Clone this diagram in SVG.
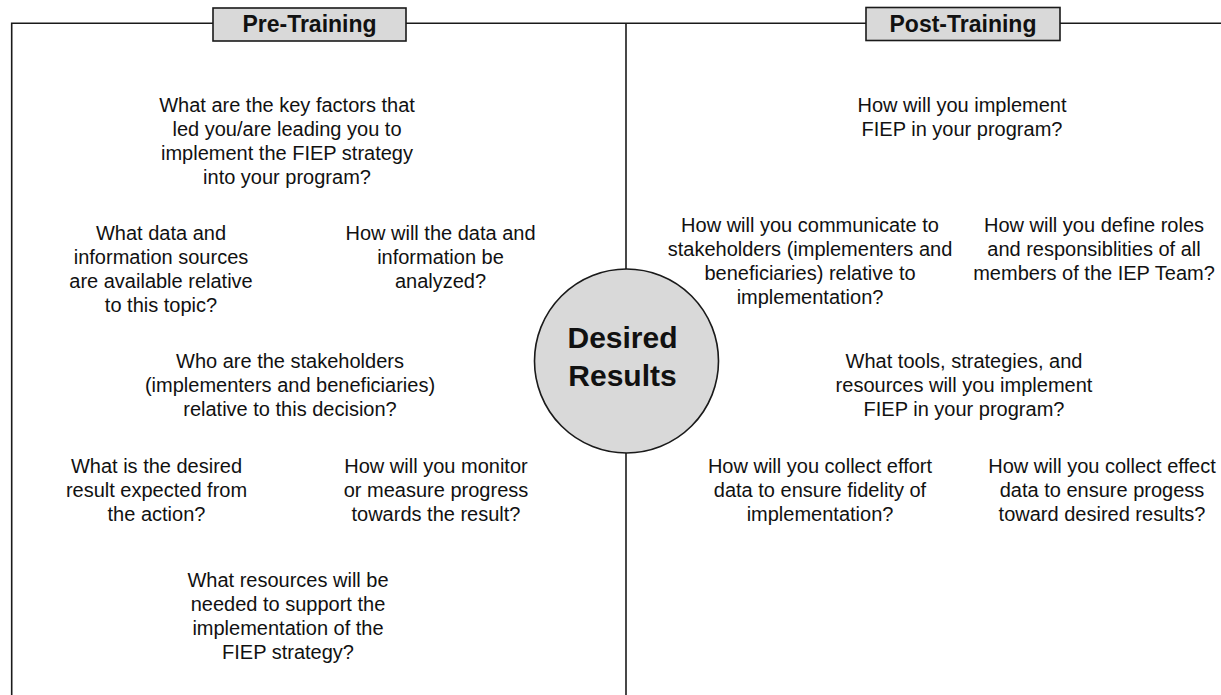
<svg xmlns="http://www.w3.org/2000/svg" width="1221" height="695" viewBox="0 0 1221 695">
<style>
.ln{fill:none;stroke:#1a1a1a;stroke-width:1.6}
.box{fill:#d9d9d9;stroke:#1a1a1a;stroke-width:1.6}
.hd{font-family:"Liberation Sans",Arial,sans-serif;font-weight:bold;font-size:23px;fill:#111;text-anchor:middle}
.q{font-family:"Liberation Sans",Arial,sans-serif;font-size:20px;fill:#111;text-anchor:middle}
.big{font-family:"Liberation Sans",Arial,sans-serif;font-weight:bold;font-size:30px;fill:#111;text-anchor:middle}
</style>
<rect width="1221" height="695" fill="#fff"/>
<g id="connectors">
<path class="ln" d="M11.7,695 V23.3 H1221"/>
<path class="ln" d="M626,23.3 V695"/>
</g>
<g id="pre-training">
<rect class="box" x="213" y="8" width="193" height="33"/>
<text class="hd" x="309.5" y="32">Pre-Training</text>
</g>
<g id="post-training">
<rect class="box" x="866" y="7.5" width="194" height="33"/>
<text class="hd" x="963" y="31.5">Post-Training</text>
</g>
<g id="desired-results">
<circle class="box" cx="626.5" cy="361" r="92"/>
<text class="big" x="622.5" y="348">Desired</text>
<text class="big" x="622.5" y="386">Results</text>
</g>
<g id="q-key-factors">
<text class="q" x="287" y="112">What are the key factors that</text>
<text class="q" x="287" y="136">led you/are leading you to</text>
<text class="q" x="287" y="160">implement the FIEP strategy</text>
<text class="q" x="287" y="184">into your program?</text>
</g>
<g id="q-data-sources">
<text class="q" x="161" y="240">What data and</text>
<text class="q" x="161" y="264">information sources</text>
<text class="q" x="161" y="288">are available relative</text>
<text class="q" x="161" y="312">to this topic?</text>
</g>
<g id="q-analyzed">
<text class="q" x="440.5" y="240">How will the data and</text>
<text class="q" x="440.5" y="264">information be</text>
<text class="q" x="440.5" y="288">analyzed?</text>
</g>
<g id="q-stakeholders">
<text class="q" x="290" y="368">Who are the stakeholders</text>
<text class="q" x="290" y="392">(implementers and beneficiaries)</text>
<text class="q" x="290" y="416">relative to this decision?</text>
</g>
<g id="q-desired-result">
<text class="q" x="156.5" y="473">What is the desired</text>
<text class="q" x="156.5" y="497">result expected from</text>
<text class="q" x="156.5" y="521">the action?</text>
</g>
<g id="q-monitor">
<text class="q" x="436" y="473">How will you monitor</text>
<text class="q" x="436" y="497">or measure progress</text>
<text class="q" x="436" y="521">towards the result?</text>
</g>
<g id="q-resources">
<text class="q" x="288" y="587">What resources will be</text>
<text class="q" x="288" y="611">needed to support the</text>
<text class="q" x="288" y="635">implementation of the</text>
<text class="q" x="288" y="659">FIEP strategy?</text>
</g>
<g id="q-implement">
<text class="q" x="962" y="112">How will you implement</text>
<text class="q" x="962" y="136">FIEP in your program?</text>
</g>
<g id="q-communicate">
<text class="q" x="810" y="232">How will you communicate to</text>
<text class="q" x="810" y="256">stakeholders (implementers and</text>
<text class="q" x="810" y="280">beneficiaries) relative to</text>
<text class="q" x="810" y="304">implementation?</text>
</g>
<g id="q-roles">
<text class="q" x="1094" y="232">How will you define roles</text>
<text class="q" x="1094" y="256">and responsiblities of all</text>
<text class="q" x="1094" y="280">members of the IEP Team?</text>
</g>
<g id="q-tools">
<text class="q" x="964" y="368">What tools, strategies, and</text>
<text class="q" x="964" y="392">resources will you implement</text>
<text class="q" x="964" y="416">FIEP in your program?</text>
</g>
<g id="q-effort">
<text class="q" x="820" y="473">How will you collect effort</text>
<text class="q" x="820" y="497">data to ensure fidelity of</text>
<text class="q" x="820" y="521">implementation?</text>
</g>
<g id="q-effect">
<text class="q" x="1102" y="473">How will you collect effect</text>
<text class="q" x="1102" y="497">data to ensure progess</text>
<text class="q" x="1102" y="521">toward desired results?</text>
</g>
</svg>
